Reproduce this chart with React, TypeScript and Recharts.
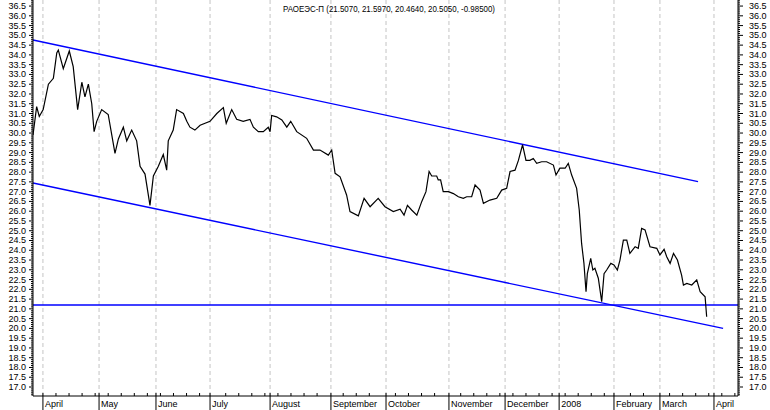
import React from 'react';
import { ComposedChart, Line, XAxis, YAxis, ReferenceLine } from 'recharts';

const title = 'РАОЕЭС-П (21.5070, 21.5970, 20.4640, 20.5050, -0.98500)';

// x axis is a trading-day index
const monthLabels = [
  'April', 'May', 'June', 'July', 'August', 'September', 'October',
  'November', 'December', '2008', 'February', 'March', 'April',
];
const monthStarts = [3.8, 25.3, 47.1, 67.8, 90.8, 114.1, 135.2, 159.3, 180.8, 201.5, 222.5, 240.1, 260.8];

const days = [
  0, 1.4, 2.4, 3.9, 5.9, 7.8, 9.1, 9.7, 11.6, 13.9, 15.4, 17.1, 18.7, 19.9, 21.2, 22.5, 23.4, 24.4,
  26.3, 28.8, 31.4, 32.7, 34.6, 35.9, 37.8, 39.7, 41.0, 42.9, 44.8, 46.1, 48.0, 49.9, 51.2, 51.8,
  53.7, 55.0, 57.6, 58.9, 60.1, 62.0, 64.0, 67.8, 70.4, 72.9, 74.0, 76.1, 78.0, 80.5, 83.1, 84.4,
  86.3, 88.2, 90.1, 90.8, 91.4, 93.3, 95.3, 97.2, 98.7, 101.0, 104.8, 107.4, 109.9, 113.1, 114.4,
  115.7, 117.6, 120.1, 121.4, 124.6, 126.8, 129.1, 132.2, 134.8, 138.0, 140.6, 142.1, 143.4, 145.0,
  147.0, 148.9, 150.5, 151.7, 152.7, 154.6, 155.2, 156.1, 157.1, 159.1, 161.0, 162.9, 164.8, 166.1,
  168.0, 169.3, 171.2, 172.5, 175.0, 177.6, 179.5, 181.4, 182.7, 184.6, 185.9, 187.5, 188.8, 190.3,
  191.6, 192.9, 194.8, 196.7, 199.3, 200.3, 201.8, 203.8, 205.0, 206.3, 208.2, 209.2, 210.1, 211.0,
  211.8, 212.3, 213.6, 214.4, 215.2, 216.5, 217.8, 218.7, 219.7, 221.3, 222.5, 223.8, 224.8, 226.1,
  227.4, 228.6, 230.6, 231.8, 233.1, 234.4, 236.3, 238.9, 240.1, 241.7, 242.7, 244.0, 245.3, 246.8,
  248.4, 249.1, 250.4, 252.3, 254.2, 255.5, 257.4, 258.0,
];
const prices = [
  29.9, 31.35, 30.85, 31.2, 32.5, 32.8, 34.1, 34.25, 33.3, 34.2, 33.4, 31.2, 32.6, 31.85, 32.5, 31.5, 30.07, 30.6,
  31.2, 30.95, 28.96, 29.7, 30.3, 29.6, 30.15, 29.6, 28.3, 27.9, 26.3, 27.8, 28.3, 28.9, 28.1, 29.6,
  30.15, 31.2, 31.0, 30.6, 30.3, 30.15, 30.4, 30.6, 31.0, 31.3, 30.5, 31.2, 30.7, 30.6, 30.7, 30.3,
  30.07, 30.07, 30.3, 30.07, 30.9, 30.83, 30.67, 30.3, 30.6, 30.07, 29.73, 29.13, 29.13, 28.87, 29.13,
  27.94, 27.76, 26.83, 25.98, 25.76, 26.66, 26.23, 26.66, 26.23, 25.98, 26.1, 25.8, 26.3, 26.06,
  25.8, 26.5, 27.0, 28.03, 27.8, 27.8, 27.6, 27.6, 27.0, 27.0, 26.9, 26.74, 26.66, 26.74,
  26.74, 27.34, 27.08, 26.4, 26.57, 26.66, 27.08, 27.17, 28.03, 28.1, 28.6, 29.4, 28.6, 28.6,
  28.7, 28.45, 28.53, 28.53, 28.36, 27.85, 28.2, 28.2, 28.45, 27.85, 27.17, 26.06, 24.35, 23.33,
  21.88, 22.8, 23.59, 22.99, 23.08, 22.57, 21.37, 22.8, 22.99, 23.33, 23.25, 22.99, 23.5, 24.52,
  24.52, 23.84, 24.18, 24.1, 25.12, 25.04, 24.18, 24.1, 23.76, 24.05, 23.67, 23.33, 23.84, 23.5,
  22.73, 22.22, 22.3, 22.22, 22.48, 21.88, 21.62, 20.6,
];

const upperChannel = [{ x: 0, y: 34.76 }, { x: 254.7, y: 27.51 }];
const lowerChannel = [{ x: 0, y: 27.44 }, { x: 264.3, y: 20.0 }];
const supportLevel = 21.2;

const chartData = days.map((d, i) => ({ day: d, price: prices[i] }));

const yDomain: [number, number] = [16.54, 36.81];
const yTicks: number[] = [];
for (let i = 166; i <= 368; i++) yTicks.push(i / 10);

const weekTicks: number[] = [];
for (let w = 3.8; w < 270; w += 5) {
  if (!monthStarts.some((m) => Math.abs(m - w) < 1.5)) weekTicks.push(Math.round(w * 10) / 10);
}
const xTicks = [...monthStarts, ...weekTicks].sort((a, b) => a - b);

const FONT = '"Liberation Sans", Arial, sans-serif';
const BLUE = '#0000ff';

const isMajor = (v: number) => Math.abs(v * 2 - Math.round(v * 2)) < 1e-6;

function LeftTick(props: any) {
  const { x, y, payload } = props;
  const v = payload.value as number;
  const major = isMajor(v);
  const labeled = major && v >= 17 && v <= 36.5;
  return (
    <g>
      <line x1={x - (major ? 4 : 2)} y1={y} x2={x} y2={y} stroke="#000" />
      {labeled && (
        <text x={x - 7} y={y + 3} textAnchor="end" fontSize={9} fontFamily={FONT} fill="#000">
          {v.toFixed(1)}
        </text>
      )}
    </g>
  );
}

function RightTick(props: any) {
  const { x, y, payload } = props;
  const v = payload.value as number;
  const major = isMajor(v);
  const labeled = major && v >= 17 && v <= 36.5;
  return (
    <g>
      <line x1={x} y1={y} x2={x + (major ? 5 : 2)} y2={y} stroke="#000" />
      {labeled && (
        <text x={x + 11} y={y + 3} textAnchor="start" fontSize={9} fontFamily={FONT} fill="#000">
          {v.toFixed(1)}
        </text>
      )}
    </g>
  );
}

function BottomTick(props: any) {
  const { x, y, payload } = props;
  const idx = monthStarts.indexOf(payload.value);
  if (idx < 0) {
    return <line x1={x} y1={y} x2={x} y2={y - 3} stroke="#000" />;
  }
  return (
    <g>
      <line x1={x} y1={y - 3} x2={x} y2={y + 14} stroke="#000" />
      <text x={x + 2} y={y + 11} textAnchor="start" fontSize={9} fontFamily={FONT} fill="#000">
        {monthLabels[idx]}
      </text>
    </g>
  );
}

export default function App() {
  return (
    <div style={{ position: 'absolute', left: 0, top: 0, width: 770, height: 410, background: '#fff' }}>
      <ComposedChart width={770} height={410} data={chartData} margin={{ top: 0, right: 0, bottom: 0, left: 0 }}>
        <XAxis
          dataKey="day"
          type="number"
          domain={[0, 270]}
          ticks={xTicks}
          interval={0}
          tickLine={false}
          tickSize={0}
          tickMargin={0}
          height={14}
          axisLine={{ stroke: '#000' }}
          tick={BottomTick}
          allowDataOverflow
        />
        <YAxis
          yAxisId="left"
          orientation="left"
          width={33}
          domain={yDomain}
          ticks={yTicks}
          interval={0}
          tickLine={false}
          tickSize={0}
          tickMargin={0}
          axisLine={{ stroke: '#000' }}
          tick={LeftTick}
          allowDataOverflow
        />
        <YAxis
          yAxisId="right"
          orientation="right"
          width={32}
          domain={yDomain}
          ticks={yTicks}
          interval={0}
          tickLine={false}
          tickSize={0}
          tickMargin={0}
          axisLine={{ stroke: '#000' }}
          tick={RightTick}
          allowDataOverflow
        />
        {monthStarts.map((m, i) => (
          <ReferenceLine key={'m' + i} x={m} yAxisId="left" stroke="#c4c4c4" strokeDasharray="4 3" />
        ))}
        <ReferenceLine yAxisId="left" segment={upperChannel} stroke={BLUE} strokeWidth={1.4} />
        <ReferenceLine yAxisId="left" segment={lowerChannel} stroke={BLUE} strokeWidth={1.4} />
        <ReferenceLine yAxisId="left" y={supportLevel} stroke={BLUE} strokeWidth={1.4} />
        <Line
          yAxisId="left"
          type="linear"
          dataKey="price"
          stroke="#000"
          strokeWidth={1.2}
          dot={false}
          isAnimationActive={false}
        />
      </ComposedChart>
      <svg width={770} height={410} style={{ position: 'absolute', left: 0, top: 0, pointerEvents: 'none' }}>
        <text x={283} y={12} fontSize={9} fontFamily={FONT} fill="#000" textLength={212} lengthAdjust="spacingAndGlyphs">
          {title}
        </text>
      </svg>
    </div>
  );
}
